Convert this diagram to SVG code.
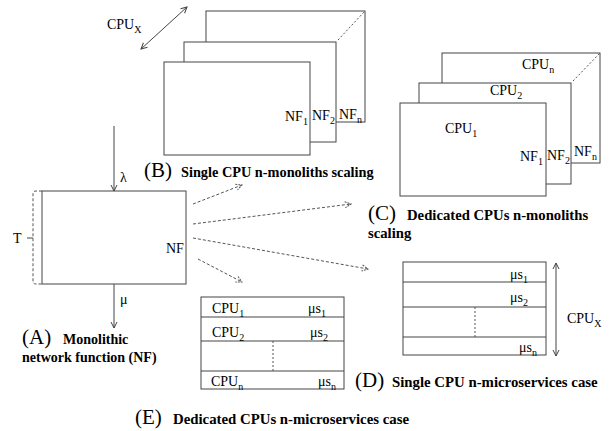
<svg xmlns="http://www.w3.org/2000/svg" width="610" height="431" viewBox="0 0 610 431">
<style>
text{font-family:"Liberation Serif","Times New Roman",serif;fill:#000}
.lb{font-size:14px}
.sub{font-size:10px}
.cap{font-size:21px}
.bd{font-size:14px;font-weight:bold}
.box{fill:#fff;stroke:#444;stroke-width:1}
.ln{stroke:#444;stroke-width:1;fill:none}
.dot{stroke:#555;stroke-width:1;stroke-dasharray:2,2;fill:none}
.dash{stroke:#555;stroke-width:1;stroke-dasharray:3,2;fill:none}
</style>
<defs>
<marker id="ah" markerWidth="8" markerHeight="8" refX="7" refY="4" orient="auto" markerUnits="userSpaceOnUse">
<path d="M1,1 L7,4 L1,7" fill="none" stroke="#444" stroke-width="1"/>
</marker>
<marker id="ahs" markerWidth="8" markerHeight="8" refX="1" refY="4" orient="auto" markerUnits="userSpaceOnUse">
<path d="M7,1 L1,4 L7,7" fill="none" stroke="#444" stroke-width="1"/>
</marker>
<marker id="ahd" markerWidth="8" markerHeight="8" refX="7" refY="4" orient="auto" markerUnits="userSpaceOnUse">
<path d="M1,1 L7,4 L1,7" fill="none" stroke="#555" stroke-width="1" stroke-dasharray="2,1"/>
</marker>
</defs>

<g id="nodeA">
<rect class="box" x="42" y="191" width="144" height="93"/>
<text class="lb" x="166" y="253">NF</text>
<path class="dash" d="M42,191 H36 Q33,191 33,194 V281 Q33,284 36,284 H42"/>
<path class="ln" d="M27,238 H33"/>
<text class="lb" x="13" y="243">T</text>
<text class="lb" x="120" y="182">λ</text>
<text class="lb" x="120" y="304">μ</text>
<text class="cap" x="22" y="344">(A)</text>
<text class="bd" x="63" y="344">Monolithic</text>
<text class="bd" x="22" y="362">network function (NF)</text>
</g>

<g id="nodeB">
<rect class="box" x="206" y="11" width="159" height="111"/>
<rect class="box" x="184" y="42" width="152" height="100"/>
<rect class="box" x="164" y="62" width="146" height="93"/>
<path class="dot" d="M338,40 L365,11"/>
<text class="lb" x="285" y="121">NF<tspan class="sub" dy="4">1</tspan></text>
<text class="lb" x="312" y="120">NF<tspan class="sub" dy="4">2</tspan></text>
<text class="lb" x="339" y="119">NF<tspan class="sub" dy="4">n</tspan></text>
<path class="ln" d="M141,49 L187,7" marker-start="url(#ahs)" marker-end="url(#ah)"/>
<text class="lb" x="107" y="29">CPU<tspan class="sub" dy="4">X</tspan></text>
<text class="cap" x="144" y="177">(B)</text>
<text class="bd" x="181" y="177" style="font-size:14.3px">Single CPU n-monoliths scaling</text>
</g>

<g id="nodeC">
<rect class="box" x="442" y="53" width="158" height="110"/>
<rect class="box" x="419" y="83" width="152" height="101"/>
<rect class="box" x="400" y="103" width="146" height="93"/>
<path class="dot" d="M573,81 L600,53"/>
<text class="lb" x="522" y="69">CPU<tspan class="sub" dy="4">n</tspan></text>
<text class="lb" x="490" y="95">CPU<tspan class="sub" dy="4">2</tspan></text>
<text class="lb" x="445" y="133">CPU<tspan class="sub" dy="4">1</tspan></text>
<text class="lb" x="520" y="161">NF<tspan class="sub" dy="4">1</tspan></text>
<text class="lb" x="547" y="160">NF<tspan class="sub" dy="4">2</tspan></text>
<text class="lb" x="574" y="156">NF<tspan class="sub" dy="4">n</tspan></text>
<text class="cap" x="368" y="220">(C)</text>
<text class="bd" x="407" y="220" style="font-size:14.7px">Dedicated CPUs n-monoliths</text>
<text class="bd" x="368" y="238" style="font-size:14.7px">scaling</text>
</g>

<g id="nodeD">
<rect class="box" x="403" y="262" width="143" height="93"/>
<path class="ln" d="M403,282 H546 M403,307 H546 M403,337 H546"/>
<path class="dot" d="M475,307 V337"/>
<text class="lb" x="510" y="279">μs<tspan class="sub" dy="4">1</tspan></text>
<text class="lb" x="510" y="302">μs<tspan class="sub" dy="4">2</tspan></text>
<text class="lb" x="519" y="352">μs<tspan class="sub" dy="4">n</tspan></text>
<path class="ln" d="M556,263 V356" marker-start="url(#ahs)" marker-end="url(#ah)"/>
<text class="lb" x="567" y="323">CPU<tspan class="sub" dy="4">X</tspan></text>
<text class="cap" x="355" y="387">(D)</text>
<text class="bd" x="392" y="387" style="font-size:14.8px">Single CPU n-microservices case</text>
</g>

<g id="nodeE">
<rect class="box" x="201" y="297" width="143" height="92"/>
<path class="ln" d="M201,317 H344 M201,341 H344 M201,371 H344"/>
<path class="dot" d="M273,341 V371"/>
<text class="lb" x="212" y="313">CPU<tspan class="sub" dy="4">1</tspan></text>
<text class="lb" x="308" y="313">μs<tspan class="sub" dy="4">1</tspan></text>
<text class="lb" x="212" y="337">CPU<tspan class="sub" dy="4">2</tspan></text>
<text class="lb" x="310" y="337">μs<tspan class="sub" dy="4">2</tspan></text>
<text class="lb" x="211" y="386">CPU<tspan class="sub" dy="4">n</tspan></text>
<text class="lb" x="318" y="386">μs<tspan class="sub" dy="4">n</tspan></text>
<text class="cap" x="135" y="424">(E)</text>
<text class="bd" x="173" y="424" style="font-size:14.8px">Dedicated CPUs n-microservices case</text>
</g>

<g id="connectors">
<path class="ln" d="M114,126 V191" marker-end="url(#ah)"/>
<path class="ln" d="M114,284 V328" marker-end="url(#ah)"/>
<path class="dash" d="M193,204 L242,185" marker-end="url(#ahd)"/>
<path class="dash" d="M193,224 L351,204" marker-end="url(#ahd)"/>
<path class="dash" d="M193,238 L368,269" marker-end="url(#ahd)"/>
<path class="dash" d="M198,259 L242,282" marker-end="url(#ahd)"/>
</g>
</svg>
